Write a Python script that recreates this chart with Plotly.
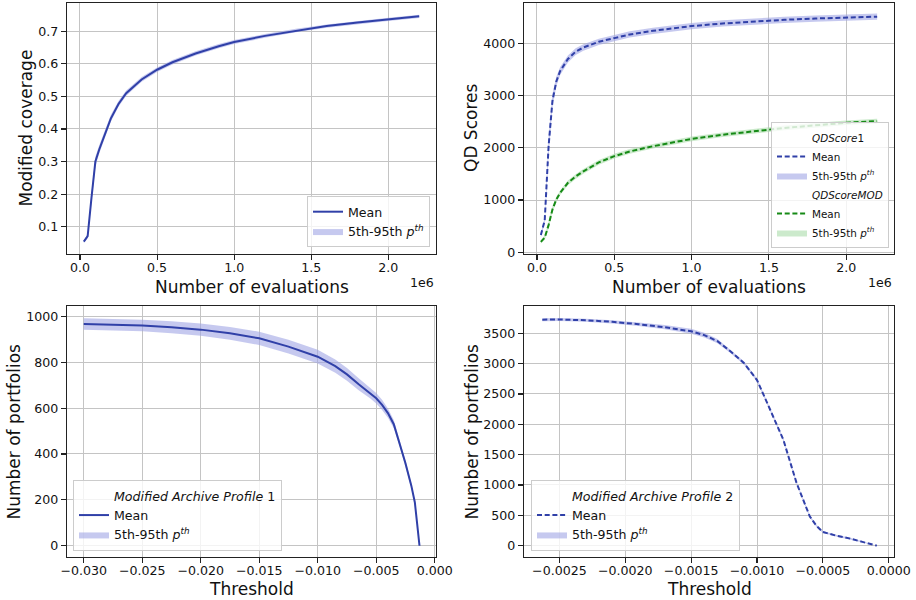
import plotly.graph_objects as go

# ---------------- data ----------------
evals = [25000, 50000, 75000, 100000, 125000, 150000, 200000, 250000, 300000, 400000,
         500000, 600000, 750000, 900000, 1000000, 1200000, 1400000, 1600000, 1800000,
         2000000, 2200000]

cov_mean = [0.054, 0.071, 0.19, 0.30, 0.337, 0.37, 0.432, 0.477, 0.51, 0.552, 0.582, 0.605,
            0.632, 0.654, 0.667, 0.686, 0.702, 0.716, 0.727, 0.737, 0.746]
cov_p5 = [0.050, 0.064, 0.175, 0.285, 0.325, 0.359, 0.422, 0.468, 0.502, 0.545, 0.575, 0.598,
          0.626, 0.648, 0.661, 0.680, 0.697, 0.711, 0.722, 0.732, 0.741]
cov_p95 = [0.058, 0.078, 0.205, 0.315, 0.35, 0.381, 0.443, 0.486, 0.518, 0.560, 0.589, 0.612,
           0.639, 0.661, 0.673, 0.692, 0.708, 0.721, 0.732, 0.742, 0.751]

qd1_mean = [330, 610, 2030, 2900, 3270, 3470, 3700, 3840, 3920, 4030, 4100, 4170, 4240, 4300,
            4330, 4380, 4420, 4450, 4475, 4495, 4510]
qd1_p5 = [290, 550, 1840, 2770, 3180, 3395, 3635, 3775, 3860, 3970, 4040, 4110, 4180, 4240,
          4270, 4320, 4360, 4390, 4415, 4435, 4450]
qd1_p95 = [370, 670, 2210, 3030, 3360, 3545, 3765, 3905, 3980, 4090, 4160, 4230, 4300, 4360,
           4390, 4440, 4480, 4510, 4535, 4555, 4570]

qdm_mean = [200, 280, 520, 820, 1010, 1140, 1330, 1450, 1550, 1720, 1840, 1930, 2030, 2120,
            2170, 2250, 2320, 2380, 2430, 2480, 2510]
qdm_p5 = [170, 240, 450, 760, 960, 1095, 1285, 1405, 1505, 1675, 1795, 1885, 1985, 2075,
          2125, 2205, 2275, 2335, 2385, 2435, 2465]
qdm_p95 = [230, 320, 590, 880, 1060, 1185, 1375, 1495, 1595, 1765, 1885, 1975, 2075, 2165,
           2215, 2295, 2365, 2425, 2475, 2525, 2555]

thr1 = [-0.030, -0.0275, -0.025, -0.0225, -0.020, -0.0175, -0.015, -0.0125, -0.010, -0.0085,
        -0.0075, -0.0065, -0.0055, -0.005, -0.0045, -0.004, -0.0035, -0.003, -0.0025, -0.002,
        -0.0017, -0.0015, -0.0013]
prof1_mean = [967, 964, 960, 952, 942, 926, 904, 868, 824, 783, 747, 704, 666, 643, 614, 578,
              530, 450, 360, 262, 190, 95, 0]
prof1_p5 = [942, 939, 935, 926, 915, 898, 875, 838, 794, 754, 719, 678, 642, 620, 592, 558,
            512, 435, 348, 252, 182, 89, 0]
prof1_p95 = [992, 989, 985, 978, 969, 954, 933, 898, 854, 812, 775, 730, 690, 666, 636, 598,
             548, 465, 372, 272, 198, 101, 0]

thr2 = [-0.00263, -0.0025, -0.0023, -0.0021, -0.0019, -0.0017, -0.0015, -0.0014, -0.0013,
        -0.0012, -0.0011, -0.0010, -0.0009, -0.0008, -0.0007, -0.0006, -0.00055, -0.0005,
        -0.0004, -0.0003, -0.0002, -0.00009]
prof2_mean = [3725, 3728, 3715, 3690, 3650, 3600, 3533, 3470, 3370, 3200, 3012, 2730, 2240,
              1745, 1035, 485, 330, 225, 165, 120, 62, 0]
prof2_p5 = [3700, 3703, 3690, 3663, 3620, 3565, 3493, 3430, 3335, 3170, 2985, 2705, 2215,
            1720, 1012, 465, 312, 208, 150, 106, 50, 0]
prof2_p95 = [3750, 3753, 3740, 3717, 3680, 3635, 3573, 3510, 3405, 3230, 3040, 2755, 2265,
             1770, 1058, 505, 348, 242, 180, 134, 74, 0]

eval_ticks = [0, 500000, 1000000, 1500000, 2000000]
eval_ticktext = ["0.0", "0.5", "1.0", "1.5", "2.0"]
cov_ticks = [0.1, 0.2, 0.3, 0.4, 0.5, 0.6, 0.7]
qd_ticks = [0, 1000, 2000, 3000, 4000]
thr1_ticks = [-0.030, -0.025, -0.020, -0.015, -0.010, -0.005, 0.0]
prof1_ticks = [0, 200, 400, 600, 800, 1000]
thr2_ticks = [-0.0025, -0.0020, -0.0015, -0.0010, -0.0005, 0.0]
prof2_ticks = [0, 500, 1000, 1500, 2000, 2500, 3000, 3500]

# ---------------- styles ----------------
BLUE = "#3040a8"
BLUE_BAND = "rgba(160,165,228,0.6)"
GREEN = "#168a16"
GREEN_BAND = "rgba(170,220,170,0.6)"
FONT = "DejaVu Sans"
W, H = 916, 600
PCT = "5th-95th <i>p</i><sup><i>th</i></sup>"
DASH = "5px,2.7px"

fig = go.Figure()


def add_band(x, lo, hi, xa, ya, color, legend, rank, group):
    fig.add_trace(go.Scatter(x=x, y=lo, mode="lines", line=dict(width=0, color=color),
                             showlegend=False, hoverinfo="skip", xaxis=xa, yaxis=ya,
                             legendgroup=group, legend=legend))
    fig.add_trace(go.Scatter(x=x, y=hi, mode="lines", line=dict(width=0, color=color),
                             fill="tonexty", fillcolor=color, name=PCT, showlegend=True,
                             legend=legend, legendrank=rank, hoverinfo="skip",
                             xaxis=xa, yaxis=ya, legendgroup=group + "b"))


def add_mean(x, y, xa, ya, color, legend, rank, group, dash=None):
    fig.add_trace(go.Scatter(x=x, y=y, mode="lines",
                             line=dict(width=2, color=color, dash=dash),
                             name="Mean", legend=legend, legendrank=rank,
                             xaxis=xa, yaxis=ya, legendgroup=group + "m"))


def add_title_entry(text, xa, ya, legend, rank, group):
    fig.add_trace(go.Scatter(x=[None], y=[None], mode="lines", line=dict(width=0),
                             name=text, legend=legend, legendrank=rank, showlegend=True,
                             xaxis=xa, yaxis=ya, legendgroup=group + "t"))


# top-left
add_band(evals, cov_p5, cov_p95, "x", "y", BLUE_BAND, "legend", 3, "a")
add_mean(evals, cov_mean, "x", "y", BLUE, "legend", 2, "a")

# top-right
add_band(evals, qd1_p5, qd1_p95, "x2", "y2", BLUE_BAND, "legend2", 3, "q1")
add_band(evals, qdm_p5, qdm_p95, "x2", "y2", GREEN_BAND, "legend2", 6, "qm")
add_mean(evals, qd1_mean, "x2", "y2", BLUE, "legend2", 2, "q1", DASH)
add_mean(evals, qdm_mean, "x2", "y2", GREEN, "legend2", 5, "qm", DASH)
add_title_entry("<i>QDScore</i>1", "x2", "y2", "legend2", 1, "q1")
add_title_entry("<i>QDScoreMOD</i>", "x2", "y2", "legend2", 4, "qm")

# bottom-left
add_band(thr1, prof1_p5, prof1_p95, "x3", "y3", BLUE_BAND, "legend3", 3, "p1")
add_mean(thr1, prof1_mean, "x3", "y3", BLUE, "legend3", 2, "p1")
add_title_entry("<i>Modified Archive Profile</i> 1", "x3", "y3", "legend3", 1, "p1")

# bottom-right
add_band(thr2, prof2_p5, prof2_p95, "x4", "y4", BLUE_BAND, "legend4", 3, "p2")
add_mean(thr2, prof2_mean, "x4", "y4", BLUE, "legend4", 2, "p2", DASH)
add_title_entry("<i>Modified Archive Profile</i> 2", "x4", "y4", "legend4", 1, "p2")

axis_common = dict(showline=True, mirror=True, linecolor="#222222", linewidth=1.2,
                   showgrid=True, gridcolor="#c4c4c4", gridwidth=1, zeroline=False,
                   ticks="outside", ticklen=5, tickwidth=1.1, tickcolor="#222222",
                   automargin=False,
                   tickfont=dict(family=FONT, size=12.6, color="#111111"))
xaxis_common = dict(axis_common, ticklabelstandoff=-3)

left_dom = [67 / W, 436 / W]
right_dom = [524 / W, 894 / W]
top_dom = [1 - 254 / H, 1 - 3 / H]
bot_dom = [1 - 557 / H, 1 - 306 / H]

layout_axes = dict(
    xaxis=dict(domain=left_dom, anchor="y", range=[-84000, 2309000], tickvals=eval_ticks,
               ticktext=eval_ticktext, **xaxis_common),
    yaxis=dict(domain=top_dom, anchor="x", range=[0.016, 0.787], tickvals=cov_ticks,
               tickformat=".1f", **axis_common),
    xaxis2=dict(domain=right_dom, anchor="y2", range=[-84000, 2309000], tickvals=eval_ticks,
                ticktext=eval_ticktext, **xaxis_common),
    yaxis2=dict(domain=top_dom, anchor="x2", range=[-33, 4772], tickvals=qd_ticks,
                **axis_common),
    xaxis3=dict(domain=left_dom, anchor="y3", range=[-0.03143, 0.00011], tickvals=thr1_ticks,
                tickformat=".3f", **xaxis_common),
    yaxis3=dict(domain=bot_dom, anchor="x3", range=[-49, 1045], tickvals=prof1_ticks,
                **axis_common),
    xaxis4=dict(domain=right_dom, anchor="y4", range=[-0.002769, 0.00004], tickvals=thr2_ticks,
                tickformat=".4f", **xaxis_common),
    yaxis4=dict(domain=bot_dom, anchor="x4", range=[-187, 3950], tickvals=prof2_ticks,
                **axis_common),
)

leg_common = dict(bgcolor="rgba(255,255,255,0.8)", bordercolor="#cccccc", borderwidth=1,
                  itemwidth=30, traceorder="normal")

annotations = []


def ann(text, x, y, size=17, angle=0, xanchor="center", yanchor="middle"):
    annotations.append(dict(text=text, x=x / W, y=1 - y / H, xref="paper", yref="paper",
                            showarrow=False, textangle=angle, xanchor=xanchor,
                            yanchor=yanchor, font=dict(family=FONT, size=size,
                                                       color="#111111")))


ann("Modified coverage", 26, 128.5, angle=-90)
ann("Number of evaluations", 252, 287)
ann("1e6", 436, 282, size=12.6, xanchor="right")
ann("QD Scores", 471.5, 128.5, angle=-90)
ann("Number of evaluations", 709, 287)
ann("1e6", 894, 282, size=12.6, xanchor="right")
ann("Number of portfolios", 13, 431.5, angle=-90)
ann("Threshold", 252, 589)
ann("Number of portfolios", 471, 431.5, angle=-90)
ann("Threshold", 709, 589)

fig.update_layout(
    width=W, height=H, margin=dict(l=0, r=0, t=0, b=0, autoexpand=False),
    paper_bgcolor="white", plot_bgcolor="white",
    font=dict(family=FONT, size=12.6, color="#111111"),
    legend=dict(x=430 / W, y=1 - 247 / H, xanchor="right", yanchor="bottom",
                font=dict(family=FONT, size=12.6), tracegroupgap=2, **leg_common),
    legend2=dict(x=889 / W, y=1 - 248 / H, xanchor="right", yanchor="bottom",
                 font=dict(family=FONT, size=10.4), tracegroupgap=0, **leg_common),
    legend3=dict(x=73 / W, y=1 - 551 / H, xanchor="left", yanchor="bottom",
                 font=dict(family=FONT, size=12.6), tracegroupgap=2, **leg_common),
    legend4=dict(x=531 / W, y=1 - 551 / H, xanchor="left", yanchor="bottom",
                 font=dict(family=FONT, size=12.6), tracegroupgap=2, **leg_common),
    annotations=annotations,
    **layout_axes,
)

fig.write_html("out.html",
               config={"displayModeBar": False, "staticPlot": True},
               post_script="document.body.style.margin='0';"
                           "document.body.style.overflow='hidden';")
